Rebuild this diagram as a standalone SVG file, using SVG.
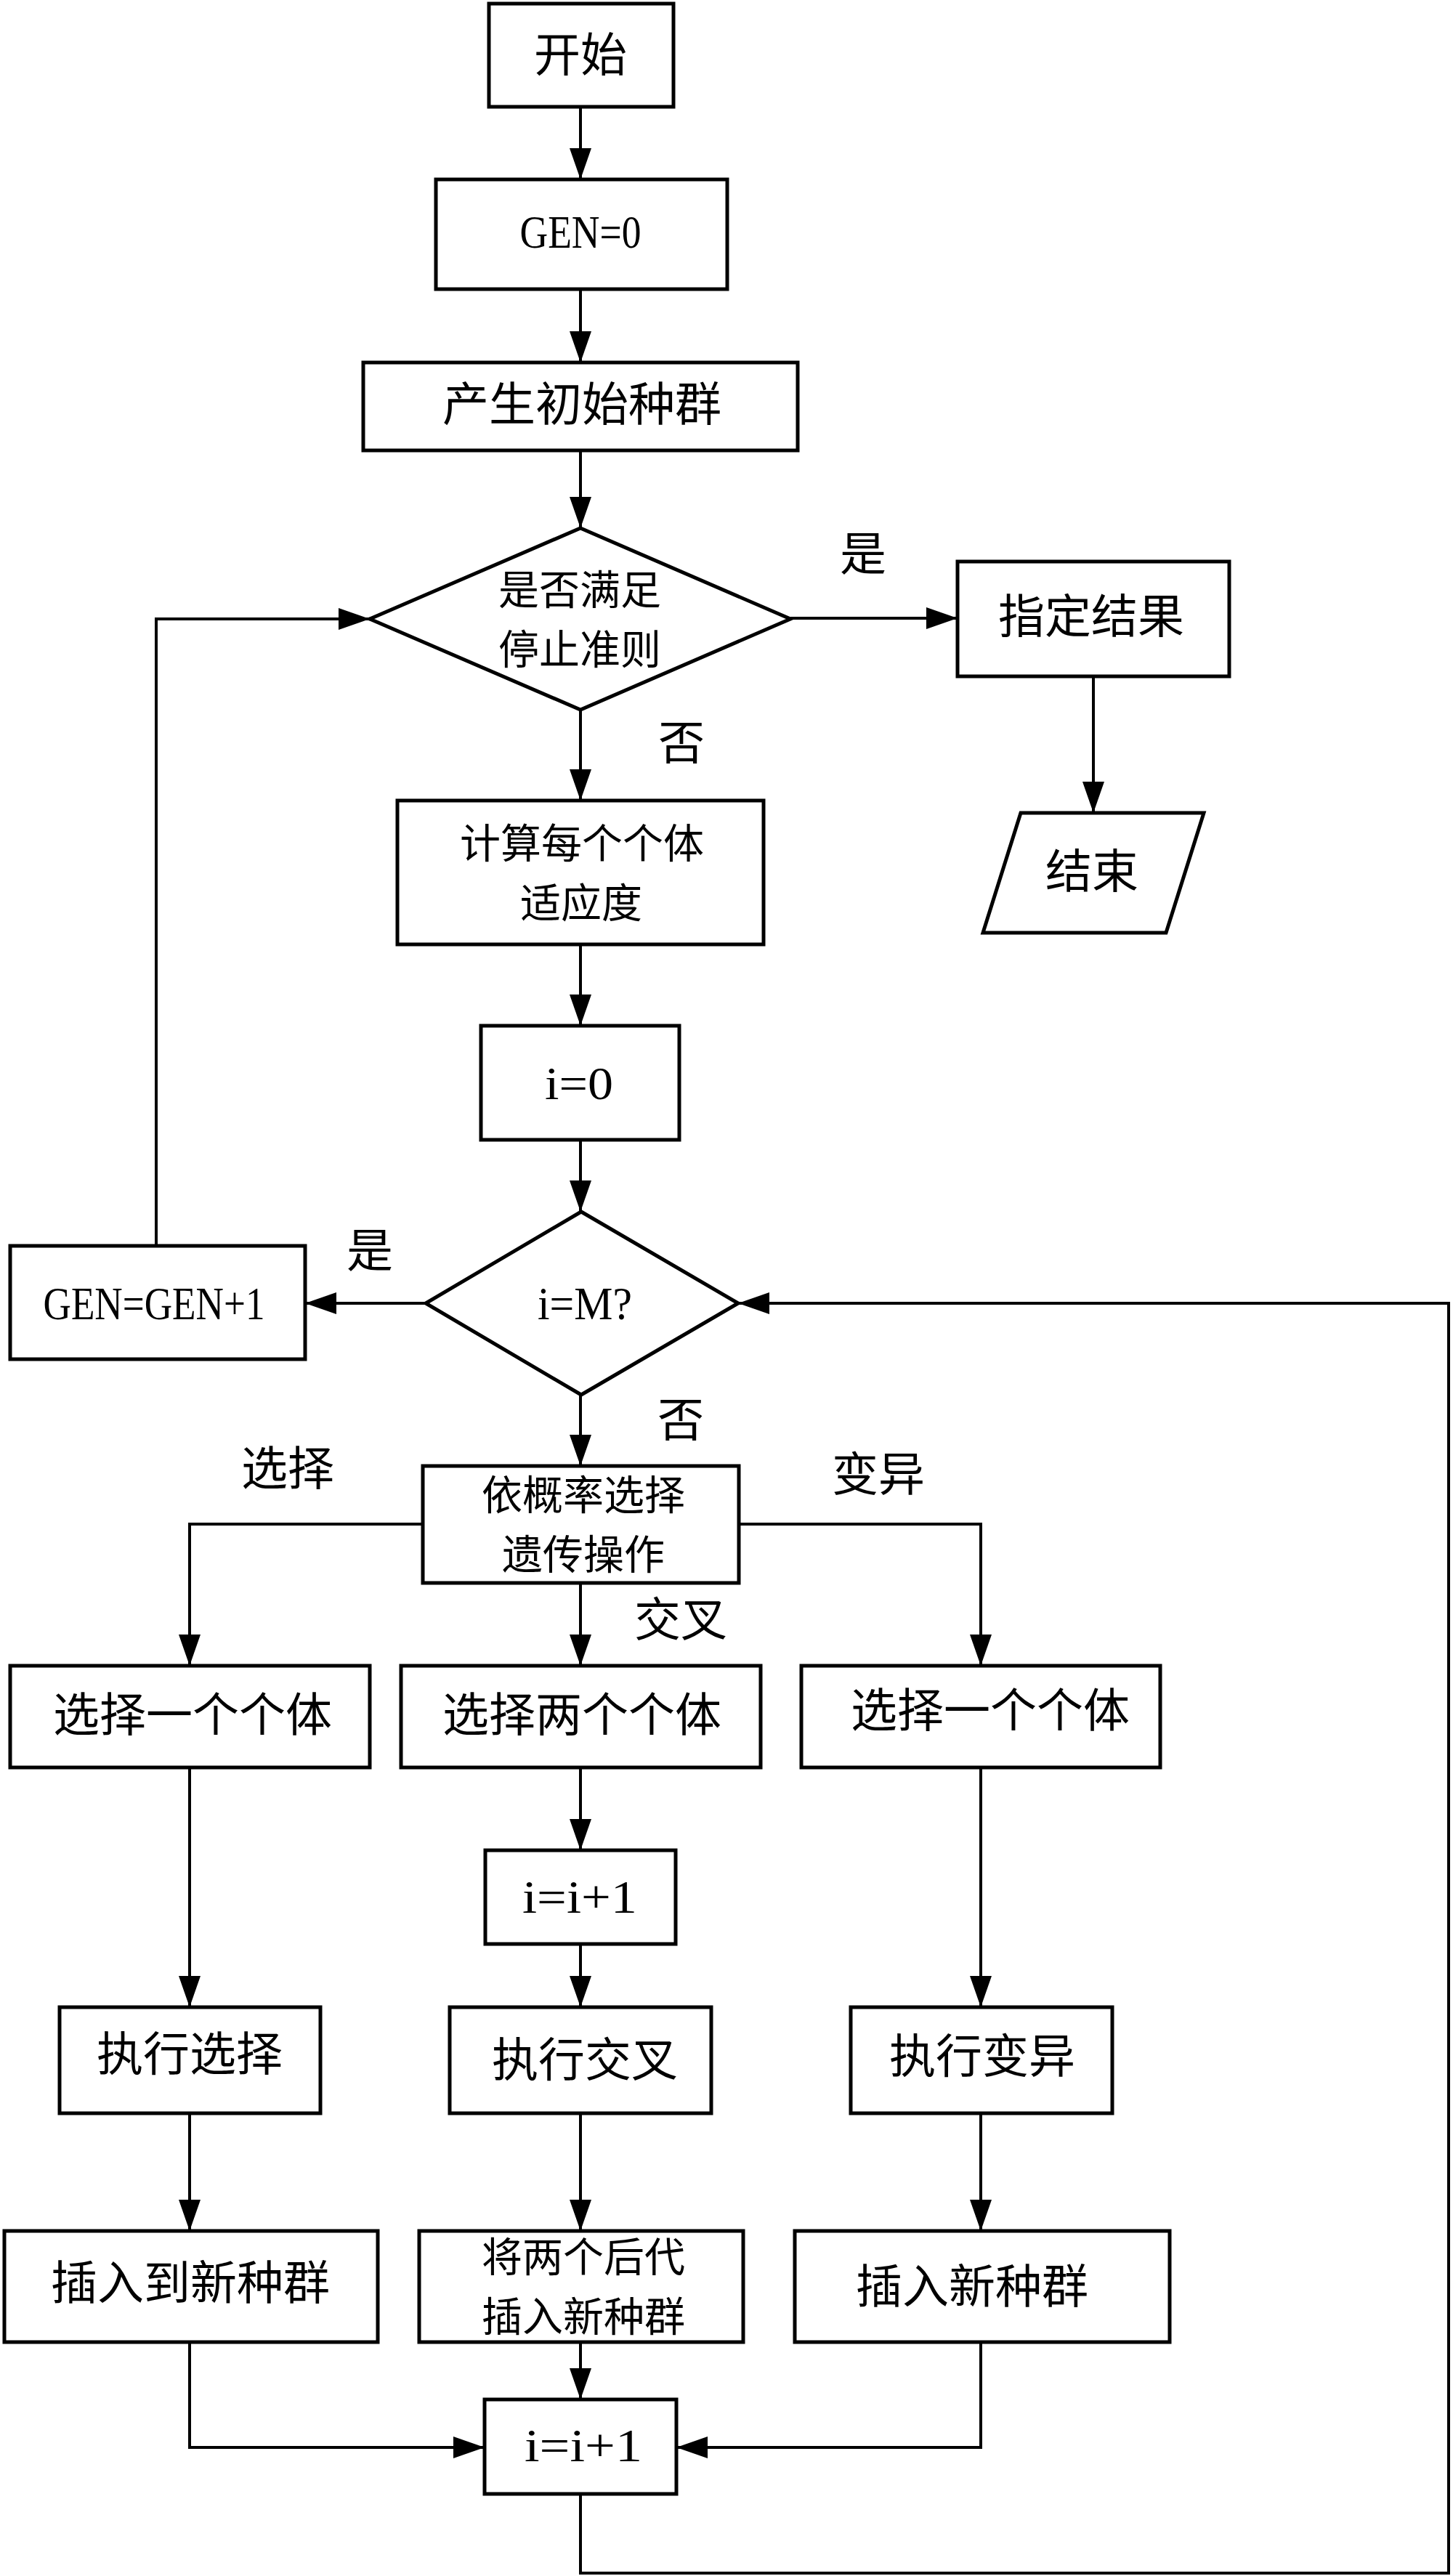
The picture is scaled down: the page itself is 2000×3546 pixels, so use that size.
<svg xmlns="http://www.w3.org/2000/svg" width="2000" height="3546" viewBox="0 0 2000 3546">
<defs>
<style>
.box{fill:#fff;stroke:#000;stroke-width:5}
.ln{fill:none;stroke:#000;stroke-width:4}
.cjk{font-family:"Noto Sans CJK SC","Noto Sans CJK TC",sans-serif;font-size:64px;fill:#000;text-anchor:middle}
.cjk2{font-family:"Noto Sans CJK SC","Noto Sans CJK TC",sans-serif;font-size:56px;fill:#000;text-anchor:middle}
.lat{font-family:"Liberation Serif","Noto Sans CJK SC",serif;font-size:64px;fill:#000;text-anchor:middle}
</style>
<marker id="ah" markerUnits="userSpaceOnUse" markerWidth="46" markerHeight="32" refX="43" refY="15" orient="auto">
<path d="M0,0 L43,15 L0,30 z" fill="#000"/>
</marker>
</defs>
<rect width="2000" height="3546" fill="#fff"/>
<g id="connectors">
<line class="ln" x1="799" y1="147" x2="799" y2="247" marker-end="url(#ah)"/>
<line class="ln" x1="799" y1="398" x2="799" y2="499" marker-end="url(#ah)"/>
<line class="ln" x1="799" y1="620" x2="799" y2="727" marker-end="url(#ah)"/>
<line class="ln" x1="1088" y1="851" x2="1318" y2="851" marker-end="url(#ah)"/>
<line class="ln" x1="1505" y1="931" x2="1505" y2="1119" marker-end="url(#ah)"/>
<line class="ln" x1="799" y1="977" x2="799" y2="1102" marker-end="url(#ah)"/>
<line class="ln" x1="799" y1="1300" x2="799" y2="1412" marker-end="url(#ah)"/>
<line class="ln" x1="799" y1="1569" x2="799" y2="1668" marker-end="url(#ah)"/>
<line class="ln" x1="586" y1="1794" x2="420" y2="1794" marker-end="url(#ah)"/>
<polyline class="ln" points="215,1715 215,852 509,852" marker-end="url(#ah)"/>
<line class="ln" x1="799" y1="1920" x2="799" y2="2018" marker-end="url(#ah)"/>
<polyline class="ln" points="582,2098 261,2098 261,2293" marker-end="url(#ah)"/>
<line class="ln" x1="799" y1="2179" x2="799" y2="2293" marker-end="url(#ah)"/>
<polyline class="ln" points="1017,2098 1350,2098 1350,2293" marker-end="url(#ah)"/>
<line class="ln" x1="799" y1="2433" x2="799" y2="2547" marker-end="url(#ah)"/>
<line class="ln" x1="799" y1="2676" x2="799" y2="2763" marker-end="url(#ah)"/>
<line class="ln" x1="261" y1="2433" x2="261" y2="2763" marker-end="url(#ah)"/>
<line class="ln" x1="1350" y1="2433" x2="1350" y2="2763" marker-end="url(#ah)"/>
<line class="ln" x1="261" y1="2909" x2="261" y2="3071" marker-end="url(#ah)"/>
<line class="ln" x1="799" y1="2909" x2="799" y2="3071" marker-end="url(#ah)"/>
<line class="ln" x1="1350" y1="2909" x2="1350" y2="3071" marker-end="url(#ah)"/>
<line class="ln" x1="799" y1="3224" x2="799" y2="3303" marker-end="url(#ah)"/>
<polyline class="ln" points="261,3224 261,3369 667,3369" marker-end="url(#ah)"/>
<polyline class="ln" points="1350,3224 1350,3369 931,3369" marker-end="url(#ah)"/>
<polyline class="ln" points="799,3433 799,3542 1994,3542 1994,1794 1016,1794" marker-end="url(#ah)"/>
</g>
<g id="labels">
<text class="cjk" x="1188" y="785">是</text>
<text class="cjk" x="938" y="1045">否</text>
<text class="cjk" x="509" y="1744">是</text>
<text class="cjk" x="937" y="1977">否</text>
<text class="cjk" x="396" y="2044">选择</text>
<text class="cjk" x="1209" y="2052">变异</text>
<text class="cjk" x="937" y="2252">交叉</text>
</g>
<g id="start">
<rect class="box" x="673" y="5" width="254" height="142"/>
<text class="cjk" x="799" y="98">开始</text>
</g>
<g id="gen0">
<rect class="box" x="600" y="247" width="401" height="151"/>
<text class="lat" x="799" y="341" textLength="167" lengthAdjust="spacingAndGlyphs">GEN=0</text>
</g>
<g id="init">
<rect class="box" x="500" y="499" width="598" height="121"/>
<text class="cjk" x="801" y="579">产生初始种群</text>
</g>
<g id="stopcheck">
<polygon class="box" points="799,727 1088,852 799,977 509,852"/>
<text class="cjk2"><tspan x="798" y="832">是否满足</tspan><tspan x="798" y="914">停止准则</tspan></text>
</g>
<g id="result">
<rect class="box" x="1318" y="773" width="374" height="158"/>
<text class="cjk" x="1502" y="871">指定结果</text>
</g>
<g id="end">
<polygon class="box" points="1405,1119 1657,1119 1605,1284 1353,1284"/>
<text class="cjk" x="1503" y="1222">结束</text>
</g>
<g id="fitness">
<rect class="box" x="547" y="1102" width="504" height="198"/>
<text class="cjk2"><tspan x="801" y="1181">计算每个个体</tspan><tspan x="800" y="1263">适应度</tspan></text>
</g>
<g id="i0">
<rect class="box" x="662" y="1412" width="273" height="157"/>
<text class="lat" x="797" y="1513" textLength="94" lengthAdjust="spacingAndGlyphs">i=0</text>
</g>
<g id="icheck">
<polygon class="box" points="800,1668 1016,1794 800,1920 586,1794"/>
<text class="lat" x="805" y="1816" textLength="130" lengthAdjust="spacingAndGlyphs">i=M?</text>
</g>
<g id="genplus">
<rect class="box" x="14" y="1715" width="406" height="156"/>
<text class="lat" x="212" y="1816" textLength="305" lengthAdjust="spacingAndGlyphs">GEN=GEN+1</text>
</g>
<g id="choose">
<rect class="box" x="582" y="2018" width="435" height="161"/>
<text class="cjk2"><tspan x="803" y="2078">依概率选择</tspan><tspan x="803" y="2160">遗传操作</tspan></text>
</g>
<g id="sel1">
<rect class="box" x="14" y="2293" width="495" height="140"/>
<text class="cjk" x="265" y="2383">选择一个个体</text>
</g>
<g id="sel2">
<rect class="box" x="552" y="2293" width="495" height="140"/>
<text class="cjk" x="801" y="2383">选择两个个体</text>
</g>
<g id="sel3">
<rect class="box" x="1103" y="2293" width="494" height="140"/>
<text class="cjk" x="1363" y="2377">选择一个个体</text>
</g>
<g id="inc1">
<rect class="box" x="668" y="2547" width="262" height="129"/>
<text class="lat" x="798" y="2633" textLength="158" lengthAdjust="spacingAndGlyphs">i=i+1</text>
</g>
<g id="doselect">
<rect class="box" x="82" y="2763" width="359" height="146"/>
<text class="cjk" x="261" y="2850">执行选择</text>
</g>
<g id="docross">
<rect class="box" x="619" y="2763" width="360" height="146"/>
<text class="cjk" x="805" y="2858">执行交叉</text>
</g>
<g id="domutate">
<rect class="box" x="1171" y="2763" width="360" height="146"/>
<text class="cjk" x="1352" y="2853">执行变异</text>
</g>
<g id="ins1">
<rect class="box" x="6" y="3071" width="514" height="153"/>
<text class="cjk" x="262" y="3165">插入到新种群</text>
</g>
<g id="ins2">
<rect class="box" x="577" y="3071" width="446" height="153"/>
<text class="cjk2"><tspan x="803" y="3127">将两个后代</tspan><tspan x="803" y="3209">插入新种群</tspan></text>
</g>
<g id="ins3">
<rect class="box" x="1094" y="3071" width="516" height="153"/>
<text class="cjk" x="1338" y="3170">插入新种群</text>
</g>
<g id="inc2">
<rect class="box" x="667" y="3303" width="264" height="130"/>
<text class="lat" x="803" y="3388" textLength="162" lengthAdjust="spacingAndGlyphs">i=i+1</text>
</g>
</svg>
